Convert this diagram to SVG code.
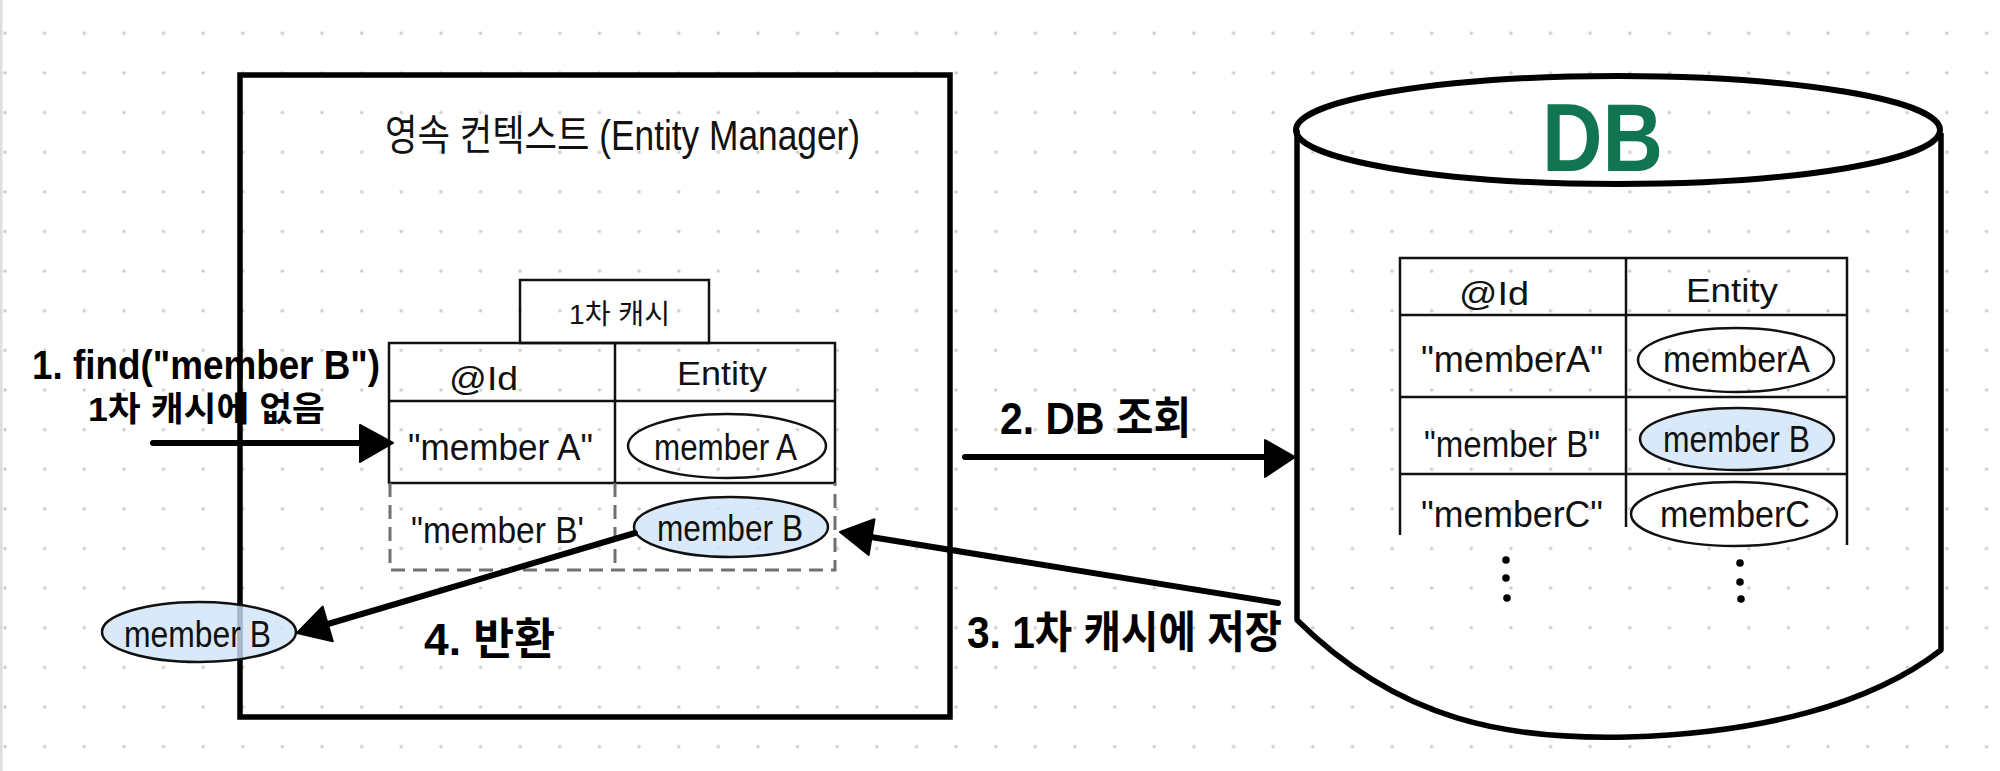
<svg xmlns="http://www.w3.org/2000/svg" width="2000" height="771" viewBox="0 0 2000 771">
<defs>
<pattern id="dots" patternUnits="userSpaceOnUse" x="-14.8" y="13.5" width="39.63" height="39.63">
<circle cx="19.8" cy="19.8" r="1.8" fill="#cdcdcd"/>
</pattern>
<style>
.hw{font-family:"Liberation Sans","Noto Sans CJK KR",sans-serif;fill:#111;font-weight:400}
.bold{font-family:"Liberation Sans","Noto Sans CJK KR",sans-serif;fill:#000;font-weight:700}
.thin{fill:none;stroke:#111;stroke-width:2.5}
.dash{fill:none;stroke:#707070;stroke-width:3;stroke-dasharray:14 8}
.oval{fill:none;stroke:#111;stroke-width:2.5}
.blue{fill:#d0e4f8;fill-opacity:0.8;stroke:#111;stroke-width:2.5}
.wire{fill:none;stroke:#000;stroke-width:6;stroke-linecap:round}
.head{fill:#000;stroke:#000;stroke-width:2;stroke-linejoin:round}
</style>
</defs>
<rect x="0" y="0" width="2000" height="771" fill="#fff"/>
<rect x="0" y="0" width="2000" height="771" fill="url(#dots)"/>
<rect x="0" y="0" width="2.5" height="771" fill="#dedede"/>

<g id="persistence-context">
<rect x="240" y="75" width="710" height="642" fill="none" stroke="#000" stroke-width="5.5"/>
<text class="hw" x="385" y="150" font-size="42" textLength="475" lengthAdjust="spacingAndGlyphs">영속 컨텍스트 (Entity Manager)</text>
</g>

<g id="first-level-cache">
<rect class="thin" x="520" y="280" width="189" height="63"/>
<text class="hw" x="569" y="324" font-size="28" textLength="101" lengthAdjust="spacingAndGlyphs">1차 캐시</text>
<path class="thin" d="M389,343 H835 V483 H389 Z M389,401 H835 M615,343 V483"/>
<path class="dash" d="M390,483 V570 H835 V483 M615,483 V570"/>
<text class="hw" x="449" y="390" font-size="34" textLength="69" lengthAdjust="spacingAndGlyphs">@Id</text>
<text class="hw" x="677" y="385" font-size="34" textLength="90" lengthAdjust="spacingAndGlyphs">Entity</text>
<text class="hw" x="408" y="460" font-size="36" textLength="185" lengthAdjust="spacingAndGlyphs">"member A"</text>
<text class="hw" x="411" y="543" font-size="36" textLength="173" lengthAdjust="spacingAndGlyphs">"member B'</text>
</g>

<g id="cache-member-a">
<ellipse class="oval" cx="727" cy="446" rx="99" ry="32"/>
<text class="hw" x="654" y="460" font-size="36" textLength="143" lengthAdjust="spacingAndGlyphs">member A</text>
</g>

<g id="cache-member-b">
<ellipse class="blue" cx="731" cy="527" rx="97" ry="30"/>
<text class="hw" x="657" y="541" font-size="36" textLength="146" lengthAdjust="spacingAndGlyphs">member B</text>
</g>

<g id="result-member-b">
<ellipse class="blue" cx="199" cy="632" rx="97" ry="30"/>
<text class="hw" x="124" y="647" font-size="36" textLength="147" lengthAdjust="spacingAndGlyphs">member B</text>
</g>

<g id="db">
<path d="M1297,130 V620 C1400,722 1510,740 1628,737 C1760,733 1870,705 1941,650 V133" fill="none" stroke="#000" stroke-width="5.5" stroke-linejoin="round"/>
<ellipse cx="1618" cy="130" rx="322" ry="54" fill="none" stroke="#000" stroke-width="6"/>
<text x="1542" y="171" font-family="'Liberation Sans','Noto Sans',sans-serif" font-weight="700" font-size="96" fill="#117552" textLength="121" lengthAdjust="spacingAndGlyphs">DB</text>
<path class="thin" d="M1400,535 V258 H1847 V545 M1400,315 H1847 M1400,397 H1847 M1400,474 H1847 M1626,258 V527"/>
<text class="hw" x="1459" y="305" font-size="34" textLength="70" lengthAdjust="spacingAndGlyphs">@Id</text>
<text class="hw" x="1686" y="302" font-size="34" textLength="92" lengthAdjust="spacingAndGlyphs">Entity</text>
<text class="hw" x="1421" y="372" font-size="36" textLength="182" lengthAdjust="spacingAndGlyphs">"memberA"</text>
<text class="hw" x="1424" y="457" font-size="36" textLength="176" lengthAdjust="spacingAndGlyphs">"member B"</text>
<text class="hw" x="1421" y="527" font-size="36" textLength="182" lengthAdjust="spacingAndGlyphs">"memberC"</text>
<g fill="#000">
<circle cx="1506" cy="560" r="3.8"/><circle cx="1506" cy="578" r="3.8"/><circle cx="1507" cy="598" r="3.8"/>
<circle cx="1740" cy="563" r="3.8"/><circle cx="1740" cy="582" r="3.8"/><circle cx="1741" cy="599" r="3.8"/>
</g>
</g>

<g id="db-member-a">
<ellipse class="oval" cx="1736" cy="360" rx="98" ry="32"/>
<text class="hw" x="1663" y="372" font-size="36" textLength="147" lengthAdjust="spacingAndGlyphs">memberA</text>
</g>
<g id="db-member-b">
<ellipse class="blue" cx="1737" cy="439" rx="97" ry="31"/>
<text class="hw" x="1663" y="452" font-size="36" textLength="147" lengthAdjust="spacingAndGlyphs">member B</text>
</g>
<g id="db-member-c">
<ellipse class="oval" cx="1734" cy="514" rx="103" ry="32"/>
<text class="hw" x="1660" y="527" font-size="36" textLength="150" lengthAdjust="spacingAndGlyphs">memberC</text>
</g>

<g id="connectors">
<line class="wire" x1="153" y1="443" x2="362" y2="443"/>
<polygon class="head" points="393,443 360,425 360,462"/>
<line class="wire" x1="965" y1="457" x2="1268" y2="457"/>
<polygon class="head" points="1295,457 1265,440 1265,477"/>
<line class="wire" x1="1278" y1="603" x2="871" y2="537"/>
<polygon class="head" points="840,532 874.5,519.3 868.7,554.9"/>
<line class="wire" x1="635" y1="533" x2="328" y2="624"/>
<polygon class="head" points="297,633 332.8,641.2 322.6,606.6"/>
</g>

<g id="labels">
<text class="bold" x="32" y="379" font-size="40" textLength="348" lengthAdjust="spacingAndGlyphs">1. find("member B")</text>
<text class="bold" x="88" y="421" font-size="34" textLength="237" lengthAdjust="spacingAndGlyphs">1차 캐시에 없음</text>
<text class="bold" x="1000" y="434" font-size="44" textLength="191" lengthAdjust="spacingAndGlyphs">2. DB 조회</text>
<text class="bold" x="967" y="648" font-size="44" textLength="315" lengthAdjust="spacingAndGlyphs">3. 1차 캐시에 저장</text>
<text class="bold" x="424" y="655" font-size="44" textLength="131" lengthAdjust="spacingAndGlyphs">4. 반환</text>
</g>
</svg>
